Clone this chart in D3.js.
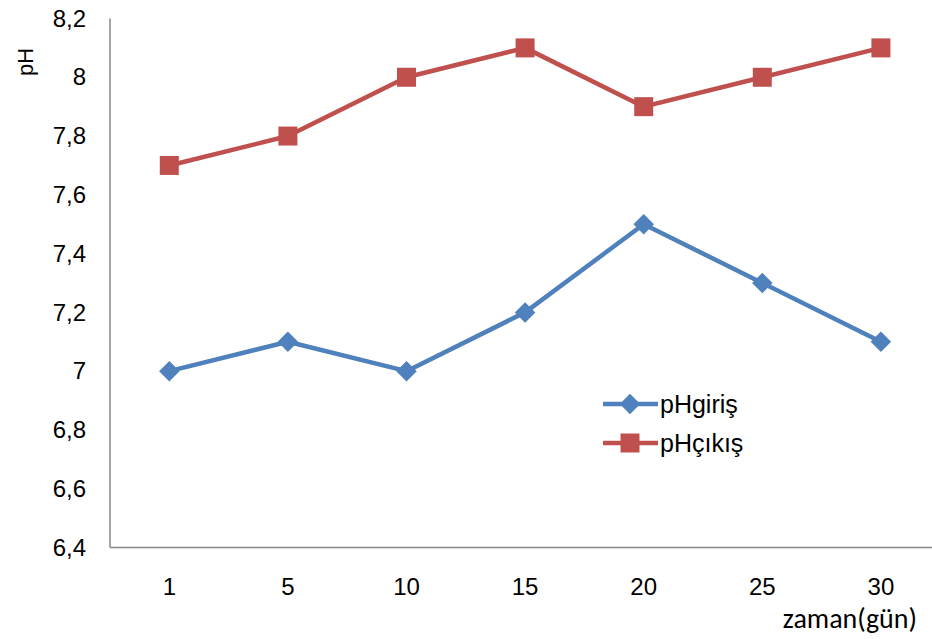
<!DOCTYPE html>
<html>
<head>
<meta charset="utf-8">
<script src="https://cdn.jsdelivr.net/npm/d3@7"></script>
<style>
  html, body { margin: 0; padding: 0; background: #fff; }
  svg { display: block; }
</style>
</head>
<body>
<svg id="chart" width="932" height="639"></svg>
<script>
// Days of measurement and pH readings
const days = ["1", "5", "10", "15", "20", "25", "30"];
const phGiris = [7.0, 7.1, 7.0, 7.2, 7.5, 7.3, 7.1];
const phCikis = [7.7, 7.8, 8.0, 8.1, 7.9, 8.0, 8.1];
const yTicks = [6.4, 6.6, 6.8, 7.0, 7.2, 7.4, 7.6, 7.8, 8.0, 8.2];
const seriesNames = ["pHgiriş", "pHçıkış"];

const svg = d3.select("#chart");
const plotLeft = 110, plotBottom = 547.5, plotTop = 18.5, step = 118.6;

const x = d3.scaleBand().domain(days).range([plotLeft, plotLeft + step * days.length]);
const y = d3.scaleLinear().domain([6.4, 8.2]).range([plotBottom, plotTop]);
const fmt = v => (Math.round(v * 10) / 10).toString().replace(".", ",");

// axes
const yAxis = svg.append("g").attr("transform", `translate(${plotLeft},0)`)
  .call(d3.axisLeft(y).tickValues(yTicks).tickFormat(fmt).tickSize(0).tickPadding(24));
const xAxis = svg.append("g").attr("transform", `translate(0,${plotBottom})`)
  .call(d3.axisBottom(x).tickSize(0).tickPadding(30));
[yAxis, xAxis].forEach(g => {
  g.select(".domain").attr("stroke", "#878787").attr("stroke-width", 1.5);
  g.selectAll("text").attr("font-family", "'Liberation Sans', Arial, sans-serif")
    .attr("font-size", 24).attr("fill", "#000");
});
xAxis.select(".domain").attr("d", `M${plotLeft},0H932`);
yAxis.select(".domain").attr("d", `M0,${plotBottom}V${plotTop}`);

// axis titles
svg.append("text").attr("transform", "translate(33,62) rotate(-90)")
  .attr("text-anchor", "middle").attr("font-family", "'Liberation Sans', Arial, sans-serif")
  .attr("font-size", 22).text("pH");
svg.append("text").attr("x", 917).attr("y", 628).attr("text-anchor", "end")
  .attr("font-family", "Carlito, Lato, sans-serif").attr("font-size", 28).text("zaman(gün)");

// diamond = square turned 45°, about 20px across
const diamond = {
  draw(ctx, size) {
    const r = Math.sqrt(size / 2);
    ctx.moveTo(0, -r); ctx.lineTo(r, 0); ctx.lineTo(0, r); ctx.lineTo(-r, 0); ctx.closePath();
  }
};

const cx = d => x(d) + x.bandwidth() / 2;
const line = d3.line().x((v, i) => cx(days[i])).y(v => y(v));
const series = [
  { name: seriesNames[0], values: phGiris, color: "#4F81BD", shape: diamond, size: 210 },
  { name: seriesNames[1], values: phCikis, color: "#C0504D", shape: d3.symbolSquare, size: 361 }
];

series.forEach(s => {
  svg.append("path").attr("d", line(s.values)).attr("fill", "none")
    .attr("stroke", s.color).attr("stroke-width", 4.5).attr("stroke-linejoin", "round");
  svg.selectAll(null).data(s.values).enter().append("path")
    .attr("d", d3.symbol().type(s.shape).size(s.size))
    .attr("transform", (v, i) => `translate(${cx(days[i])},${y(v)})`)
    .attr("fill", s.color);
});

// legend
series.forEach((s, i) => {
  const ly = 404 + i * 39;
  const g = svg.append("g");
  g.append("line").attr("x1", 603).attr("x2", 658).attr("y1", ly).attr("y2", ly)
    .attr("stroke", s.color).attr("stroke-width", 4.5);
  g.append("path").attr("d", d3.symbol().type(s.shape).size(s.size))
    .attr("transform", `translate(630,${ly})`).attr("fill", s.color);
  g.append("text").attr("x", 660).attr("y", ly + 9)
    .attr("font-family", "'Liberation Sans', Arial, sans-serif").attr("font-size", 25)
    .text(s.name);
});
</script>
</body>
</html>
